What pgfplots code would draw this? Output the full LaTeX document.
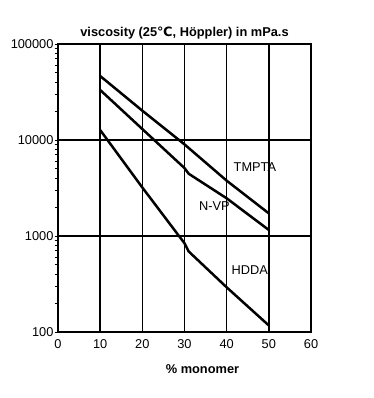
\documentclass[border=0pt]{standalone}
\usepackage{fontspec}
\setmainfont{Liberation Sans}
\newfontfamily\dejavu{DejaVu Sans}
\usepackage{pgfplots}
\pgfplotsset{compat=1.18}
\begin{document}
\begin{tikzpicture}[x=1pt,y=1pt]
\path[use as bounding box] (0,0) rectangle (373,398);
\begin{axis}[at={(58pt,66pt)}, anchor=south west, scale only axis,
  width=253pt, height=288pt,
  xmin=0, xmax=60, ymode=log, ymin=100, ymax=100000,
  xtick={0,10,...,60}, ytick={100,1000,10000,100000},
  yticklabels={100,1000,10000,100000},
  minor ytick={200,300,400,500,600,700,800,900,2000,3000,4000,5000,6000,7000,8000,9000,20000,30000,40000,50000,60000,70000,80000,90000},
  ytick pos=left,
  /pgf/number format/assume math mode=true,
  xmajorgrids, ymajorgrids,
  grid style={black, line width=1.4pt},
  axis line style={line width=1.5pt},
  ytick style={black, line width=0.9pt},
  minor tick style={black, line width=0.9pt},
  xtick style={draw=none},
  tick align=outside, major tick length=3.5pt, minor tick length=3.5pt,
  minor grid style={draw=none},
  tick label style={font=\fontsize{12.8}{14}\selectfont},
  yticklabel style={xshift=2.5pt},
  xticklabel style={yshift=-1pt},
  title={\textbf{viscosity (25{\dejavu\bfseries ℃}, Höppler) in mPa.s}},
  title style={font=\fontsize{12.8}{14}\selectfont, yshift=-5pt},
  xlabel={\textbf{\% monomer}},
  xlabel style={font=\fontsize{12.8}{14}\selectfont, xshift=18pt, yshift=-9pt},
  clip=false,
]
\node[font=\fontsize{12.8}{14}\selectfont] at (axis cs:46.7,5200) {TMPTA};
\node[font=\fontsize{12.8}{14}\selectfont] at (axis cs:37.1,2050) {N-VP};
\node[font=\fontsize{12.8}{14}\selectfont] at (axis cs:45.5,443) {HDDA};
\addplot[black, line width=2.5pt] coordinates {(10,46400) (20,20200) (30,9000) (40,3770) (50,1720)};
\addplot[black, line width=2.5pt] coordinates {(10,33200) (20,13000) (30,5100) (31,4450) (40,2470) (50,1155)};
\addplot[black, line width=2.5pt] coordinates {(10,12700) (20,3200) (30,840) (31,690) (40,292) (50,117)};
\end{axis}
\end{tikzpicture}
\end{document}
